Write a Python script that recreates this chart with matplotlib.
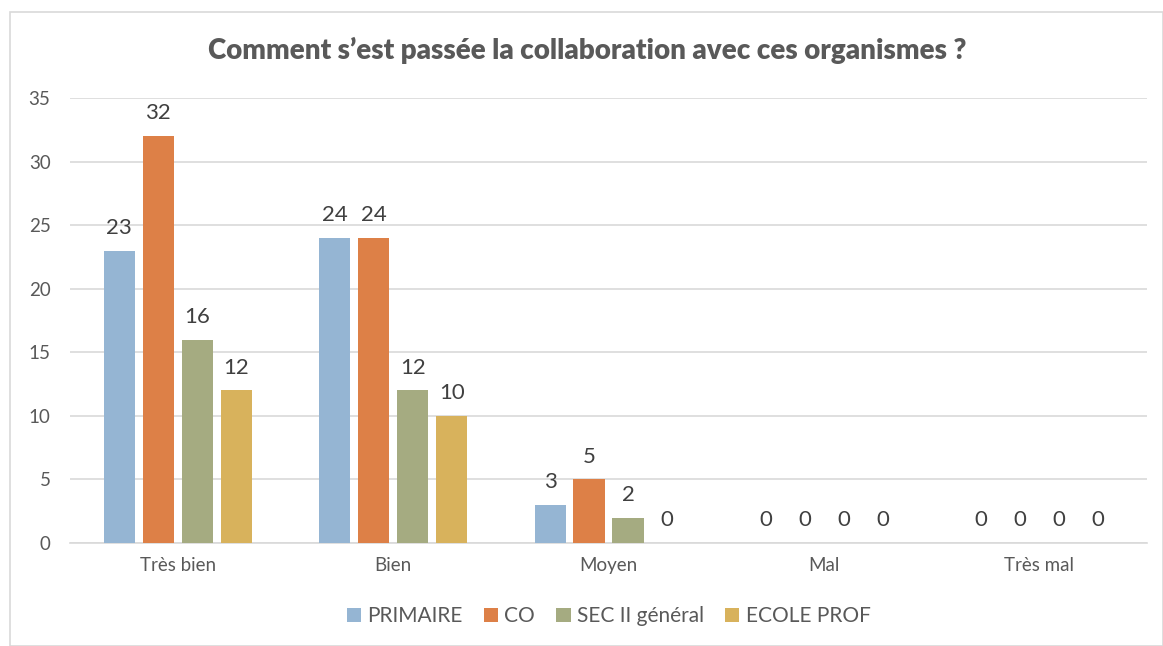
import numpy as np
import matplotlib.pyplot as plt
from matplotlib.patches import Rectangle

categories = ["Très bien", "Bien", "Moyen", "Mal", "Très mal"]
series = ["PRIMAIRE", "CO", "SEC II général", "ECOLE PROF"]
primaire = [23, 24, 3, 0, 0]
co = [32, 24, 5, 0, 0]
sec2 = [16, 12, 2, 0, 0]
ecole = [12, 10, 0, 0, 0]
colors = ["#95B5D3", "#DD8047", "#A5AB81", "#D8B25C"]

plt.rcParams['font.family'] = ['Lato', 'DejaVu Sans']
txt = "#595959"

fig = plt.figure(figsize=(11.63, 6.46), dpi=100)
fig.patches.append(Rectangle((10/1163, 0), 1 - 10/1163, 1 - 12/646, transform=fig.transFigure,
                             fill=False, edgecolor="#D9D9D9", linewidth=1.2))
ax = fig.add_axes([70/1163, 1 - 543/646, (1147 - 70)/1163, (543 - 98)/646])

x = np.arange(len(categories))
step = 0.181
w = 0.144
for i, (vals, name) in enumerate(zip([primaire, co, sec2, ecole], series)):
    pos = x + (i - 1.5) * step
    bars = ax.bar(pos, vals, w, color=colors[i], label=name, zorder=3)
    for b, v in zip(bars, vals):
        ax.text(b.get_x() + b.get_width() / 2, v + 1.0, str(v), ha="center", va="bottom",
                fontsize=16, color="#404040")

ax.set_xlim(-0.5, len(categories) - 0.5)
ax.set_ylim(0, 35)
ax.set_yticks(range(0, 36, 5))
ax.set_xticks(x)
ax.set_xticklabels(categories)
ax.yaxis.grid(True, color="#D9D9D9", linewidth=1.2, zorder=0)
for s in ["top", "right", "left"]:
    ax.spines[s].set_visible(False)
ax.spines["bottom"].set_color("#D9D9D9")
ax.spines["bottom"].set_linewidth(1.2)
ax.tick_params(axis="both", length=0, colors=txt, labelsize=13.5)
ax.tick_params(axis="y", pad=14)
ax.tick_params(axis="x", pad=10)

fig.text(0.505, 1 - 50/646, "Comment s’est passée la collaboration avec ces organismes ?",
         ha="center", va="center", fontsize=20, fontweight="heavy", color=txt)

ax.legend(loc="center", bbox_to_anchor=(0.5, -0.165), ncol=4, frameon=False, fontsize=15,
          handlelength=0.7, handleheight=0.7, handletextpad=0.3, columnspacing=1.0, labelcolor=txt)

fig.savefig("out.png", dpi=100)
